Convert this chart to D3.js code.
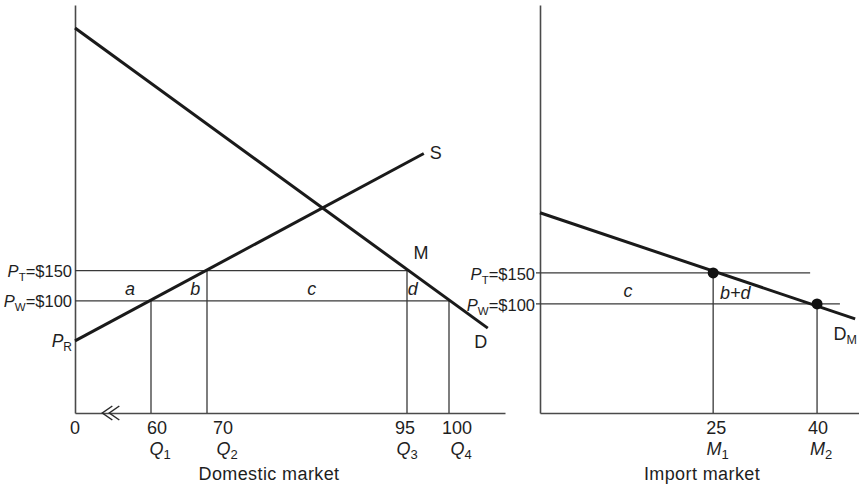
<!DOCTYPE html>
<html><head><meta charset="utf-8">
<script src="https://cdn.jsdelivr.net/npm/d3@7"></script>
<style>
body{margin:0;background:#fff}
svg text{font-family:"Liberation Sans",Arial,sans-serif;fill:#1e1e1e}
</style></head><body>
<svg id="chart" width="859" height="484" font-size="18"></svg>
<script>
// ---------- data ----------
const domesticTicks = [0, 60, 70, 95, 100];
const domesticSubs  = ["", "1", "2", "3", "4"];
const importTicks   = [25, 40];
const importSubs    = ["1", "2"];
const priceLevels   = [150, 100];
const priceSubs     = ["T", "W"];
const priceR        = 34;                       // P_R (supply intercept)
const supplyS       = [[0, 34], [97, 343]];      // domestic supply
const demandD       = [[0, 550], [104.5, 55]];   // domestic demand
const importDM      = [[0, 247], [45.5, 76]];    // import demand
const importPts     = [[25, 150], [40, 100]];
const domesticHLines = [[150, 95], [100, 100]];  // [price, up to quantity]
const domesticVLines = [[60, 100], [70, 150], [95, 150], [100, 100]]; // [quantity, up to price]
const importHLines  = [[150, 39], [100, 43.3]];
const importVLines  = [[25, 150], [40, 100]];
const domesticAreas = [["a", 43.4], ["b", 67.9], ["c", 83.1], ["d", 95.7]];
const importAreas   = [["c", 12.7], ["b+d", 28.2]];
const breakAt = 20;

// ---------- scales ----------
const xL = d3.scaleLinear().domain([0, 60, 70, 95, 100, 106.5]).range([75, 151, 207, 407, 449, 505]);
const yL = d3.scaleLinear().domain([-85, 588]).range([413, 5]);
const xR = d3.scaleLinear().domain([0, 46.2]).range([540, 860]);
const yR = d3.scaleLinear().domain([-75.8, 582]).range([413, 5]);

const svg = d3.select("#chart");
svg.append("rect").attr("width", 859).attr("height", 484).attr("fill", "#fff");

const thin = {stroke: "#383838", w: 1.3};
const thick = {stroke: "#1a1a1a", w: 3};

function axes(g, x, y) {
  const xa = g.append("g").attr("transform", `translate(0,${y.range()[0]})`)
    .call(d3.axisBottom(x).tickValues([]).tickSizeOuter(0));
  const ya = g.append("g").attr("transform", `translate(${x.range()[0]},0)`)
    .call(d3.axisLeft(y).tickValues([]).tickSizeOuter(0));
  [xa, ya].forEach(a => {
    a.attr("font-size", null).attr("font-family", null);
    a.select(".domain").attr("stroke", "#4a4a4a").attr("stroke-width", 1.6);
  });
}

function seg(g, x1, y1, x2, y2, st) {
  g.append("line").attr("x1", x1).attr("y1", y1).attr("x2", x2).attr("y2", y2)
    .attr("stroke", st.stroke).attr("stroke-width", st.w).attr("stroke-linecap", "butt");
}

function subLabel(g, x, y, main, sub, rest, anchor, italic, size, subSize) {
  const t = g.append("text").attr("x", x).attr("y", y).attr("text-anchor", anchor)
    .style("font-size", (size || 18) + "px");
  t.append("tspan").text(main).attr("font-style", italic ? "italic" : "normal");
  if (sub) t.append("tspan").text(sub).style("font-size", (subSize || 13) + "px").attr("dy", 4);
  if (rest) t.append("tspan").text(rest).attr("dy", sub ? -4 : 0);
  return t;
}

// ================= Domestic market =================
const gL = svg.append("g");
axes(gL, xL, yL);

domesticHLines.forEach(([p, q]) => seg(gL, xL(0), yL(p), xL(q), yL(p), thin));
domesticVLines.forEach(([q, p]) => seg(gL, xL(q), yL.range()[0], xL(q), yL(p), thin));

const lineL = d3.line().x(d => xL(d[0])).y(d => yL(d[1]));
[supplyS, demandD].forEach(d => gL.append("path").attr("d", lineL(d))
  .attr("fill", "none").attr("stroke", thick.stroke).attr("stroke-width", thick.w));

// axis break symbol
const bx = xL(breakAt) + 2, by = yL.range()[0];
[0, 7].forEach(o => gL.append("path")
  .attr("d", `M${bx + o + 10},${by - 7}L${bx + o},${by}L${bx + o + 10},${by + 7}`)
  .attr("fill", "none").attr("stroke", "#2a2a2a").attr("stroke-width", 1.5));

// price labels
priceLevels.forEach((p, i) =>
  subLabel(gL, 72, yL(p) + 6.5, "P", priceSubs[i], "=$" + p, "end", true, 16.5, 11.5));
subLabel(gL, 72, yL(priceR) + 6, "P", "R", null, "end", true, 17.5, 12);

// quantity labels
const numDxL = [0, 6, 16, -2, 8], qDxL = [0, 9, 20, 0, 12];
domesticTicks.forEach((q, i) => {
  gL.append("text").attr("x", xL(q) + numDxL[i]).attr("y", 433.5).attr("text-anchor", "middle")
    .style("font-size", "18px").text(q);
  if (domesticSubs[i]) subLabel(gL, xL(q) + qDxL[i], 454.5, "Q", domesticSubs[i], null, "middle", true);
});
gL.append("text").attr("x", 269).attr("y", 480).attr("text-anchor", "middle").style("font-size", "18px")
  .attr("letter-spacing", 0.4).text("Domestic market");

// area labels
domesticAreas.forEach(([t, q]) => gL.append("text").attr("x", xL(q)).attr("y", yL(125) + 9)
  .attr("text-anchor", "middle").attr("font-style", "italic").style("font-size", "18px").text(t));

// curve labels
gL.append("text").attr("x", xL(supplyS[1][0]) + 6).attr("y", yL(supplyS[1][1]) + 5).style("font-size", "18px").text("S");
gL.append("text").attr("x", xL(demandD[1][0]) - 7).attr("y", yL(demandD[1][1]) + 20)
  .attr("text-anchor", "middle").style("font-size", "18px").text("D");
gL.append("text").attr("x", xL(95) + 14).attr("y", yL(150) - 12).attr("text-anchor", "middle")
  .style("font-size", "18px").text("M");

// ================= Import market =================
const gR = svg.append("g");
axes(gR, xR, yR);

importHLines.forEach(([p, m]) => seg(gR, xR(0) - 4, yR(p), xR(m), yR(p), thin));
importVLines.forEach(([m, p]) => seg(gR, xR(m), yR.range()[0], xR(m), yR(p), thin));

const lineR = d3.line().x(d => xR(d[0])).y(d => yR(d[1]));
gR.append("path").attr("d", lineR(importDM)).attr("fill", "none")
  .attr("stroke", thick.stroke).attr("stroke-width", thick.w);

gR.selectAll("circle.pt").data(importPts).join("circle").attr("class", "pt")
  .attr("cx", d => xR(d[0])).attr("cy", d => yR(d[1])).attr("r", 5.5).attr("fill", "#111");

priceLevels.forEach((p, i) =>
  subLabel(gR, 535, yR(p) + 7.5, "P", priceSubs[i], "=$" + p, "end", true, 16.5, 11.5));

const numDxR = [3, 1], mDxR = [4.5, 4];
importTicks.forEach((m, i) => {
  gR.append("text").attr("x", xR(m) + numDxR[i]).attr("y", 433.5).attr("text-anchor", "middle")
    .style("font-size", "18px").text(m);
  subLabel(gR, xR(m) + mDxR[i], 454.5, "M", importSubs[i], null, "middle", true);
});
gR.append("text").attr("x", 702).attr("y", 480).attr("text-anchor", "middle").style("font-size", "18px")
  .attr("letter-spacing", 0.4).text("Import market");

importAreas.forEach(([t, m], i) => gR.append("text").attr("x", xR(m)).attr("y", yR(125) + 9 + i * 2)
  .attr("text-anchor", "middle").attr("font-style", "italic").style("font-size", "18px").text(t));

subLabel(gR, 857, yR(importDM[1][1]) + 21, "D", "M", null, "end", false, 18, 12.5);
</script>
</body></html>
